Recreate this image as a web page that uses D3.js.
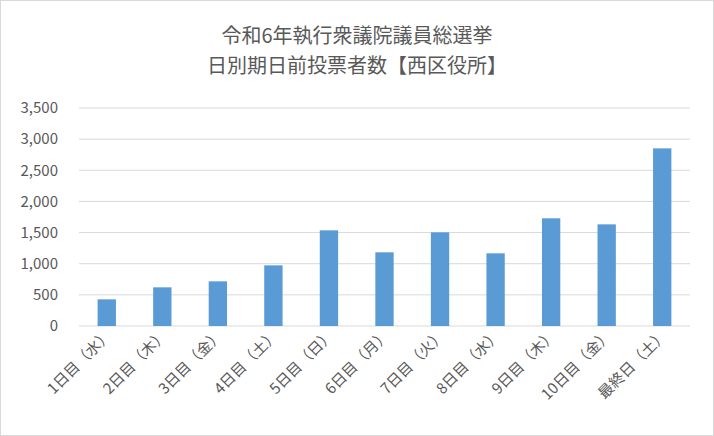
<!DOCTYPE html>
<html><head><meta charset="utf-8">
<script src="https://cdn.jsdelivr.net/npm/d3@7"></script>
<style>body{margin:0;background:#fff}text{font-family:"Noto Sans CJK JP","Noto Sans",sans-serif;fill:#595959}</style>
</head><body><svg id="c" width="714" height="436"></svg>
<script>
const categories = ['1日目（水）','2日目（木）','3日目（金）','4日目（土）','5日目（日）','6日目（月）','7日目（火）','8日目（水）','9日目（木）','10日目（金）','最終日（土）'];
const votes = [428, 621, 717, 974, 1536, 1183, 1504, 1167, 1729, 1632, 2852];
const yTicks = [0, 500, 1000, 1500, 2000, 2500, 3000, 3500];
const titleLines = ['令和6年執行衆議院議員総選挙', '日別期日前投票者数【西区役所】'];

const svg = d3.select('#c');
svg.append('rect').attr('x', 0.5).attr('y', 0.5).attr('width', 713).attr('height', 435)
    .attr('fill', '#fff').attr('stroke', '#d9d9d9');

const x = d3.scaleBand().domain(categories).range([79, 690]).paddingInner(0.67).paddingOuter(0.335);
const y = d3.scaleLinear().domain([0, 3500]).range([326, 108]);

// grid
svg.append('g').selectAll('line').data(yTicks).join('line')
    .attr('x1', 79).attr('x2', 690)
    .attr('y1', d => y(d)).attr('y2', d => y(d))
    .attr('stroke', '#d9d9d9').attr('stroke-width', 1);

svg.append('g').selectAll('text').data(yTicks).join('text')
    .attr('x', 58).attr('y', d => y(d)).attr('dy', '0.35em')
    .attr('text-anchor', 'end').attr('font-size', 15)
    .text(d => d3.format(',')(d));

svg.append('g').selectAll('rect').data(votes).join('rect')
    .attr('x', (d, i) => x(categories[i]))
    .attr('width', x.bandwidth())
    .attr('y', d => y(d))
    .attr('height', d => y(0) - y(d))
    .attr('fill', '#5b9bd5');

svg.append('g').selectAll('text').data(categories).join('text')
    .attr('transform', d => `translate(${x(d) + x.bandwidth() / 2 + 6},${336}) rotate(-45)`)
    .attr('text-anchor', 'end').attr('font-size', 15)
    .text(d => d);

svg.append('g').selectAll('text').data(titleLines).join('text')
    .attr('x', 357).attr('y', (d, i) => 43 + i * 30)
    .attr('text-anchor', 'middle').attr('font-size', 20)
    .text(d => d);
</script></body></html>
